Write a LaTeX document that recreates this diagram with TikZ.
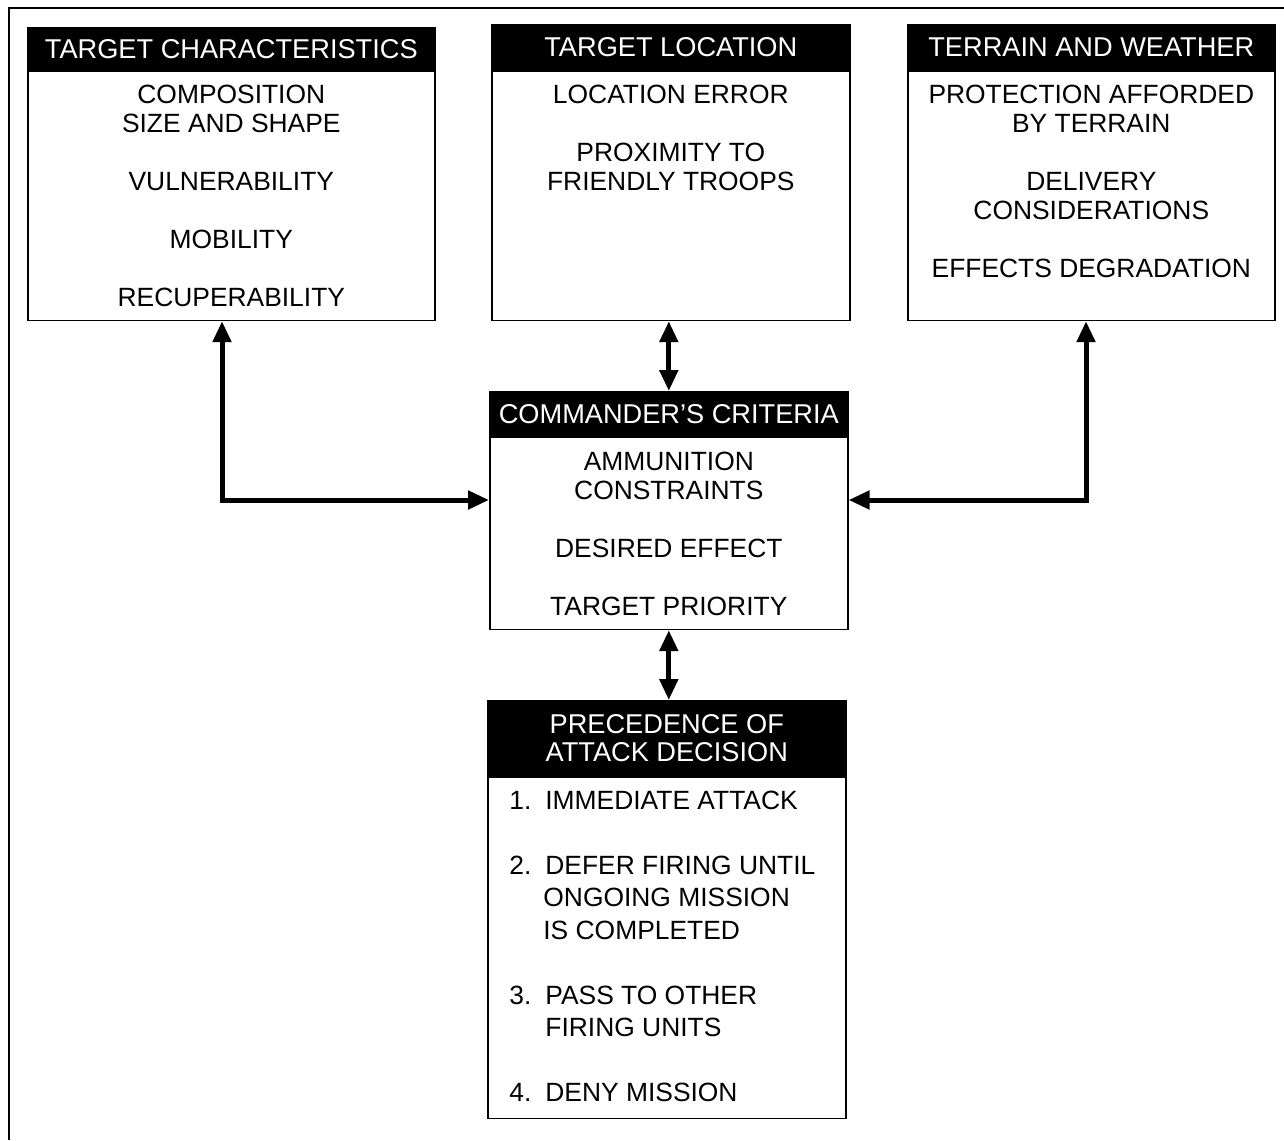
\documentclass[tikz,border=0pt]{standalone}
\usepackage{fontspec}
\setmainfont{Liberation Sans}
\usetikzlibrary{arrows.meta,positioning}
\definecolor{HeadClr}{rgb}{0,0,0}
\definecolor{LineClr}{rgb}{0,0,0}

\tikzset{
  HeadBox/.style={draw=LineClr,fill=HeadClr,text=white,line width=.8pt,inner sep=0pt,
    anchor=north west,align=center,font=\fontsize{13.6}{14}\selectfont},
  BodyBox/.style={draw=LineClr,line width=.8pt,inner sep=0pt,anchor=north west},
  BodyTxt/.style={inner sep=0pt,align=center,font=\fontsize{13.2}{14.5}\selectfont},
  LinkArr/.style={draw=LineClr,line width=2.5pt,
    {Triangle[length=10.5pt,width=9pt]}-{Triangle[length=10.5pt,width=9pt]}}
}

\begin{document}
\begin{tikzpicture}[x=.5pt,y=-.5pt]
\useasboundingbox (0,0) rectangle (1284,1140);

\draw[LineClr,line width=.8pt] (1284,8) -- (9,8) -- (9,1140);

% top row
\node[HeadBox,minimum width=203.5pt,minimum height=21pt] (tcH) at (27,27) {TARGET CHARACTERISTICS};
\node[BodyBox,minimum width=203.5pt,minimum height=124.5pt] (tcB) at (tcH.south west) {};
\node[BodyTxt,below=7pt of tcB.north] (tcT) {COMPOSITION\\SIZE AND SHAPE\\[14.5pt]VULNERABILITY\\[14.5pt]MOBILITY\\[14.5pt]RECUPERABILITY};

\node[HeadBox,minimum width=179pt,minimum height=22.5pt] (tlH) at (491,24) {TARGET LOCATION};
\node[BodyBox,minimum width=179pt,minimum height=124.5pt] (tlB) at (tlH.south west) {};
\node[BodyTxt,below=7pt of tlB.north] (tlT) {LOCATION ERROR\\[14.5pt]PROXIMITY TO\\FRIENDLY TROOPS};

\node[HeadBox,minimum width=183.5pt,minimum height=22.5pt] (twH) at (907,24) {TERRAIN AND WEATHER};
\node[BodyBox,minimum width=183.5pt,minimum height=124.5pt] (twB) at (twH.south west) {};
\node[BodyTxt,below=7pt of twB.north] (twT) {PROTECTION AFFORDED\\BY TERRAIN\\[14.5pt]DELIVERY\\CONSIDERATIONS\\[14.5pt]EFFECTS DEGRADATION};

% middle
\node[HeadBox,minimum width=179pt,minimum height=22pt] (ccH) at (489,391) {COMMANDER’S CRITERIA};
\node[BodyBox,minimum width=179pt,minimum height=96pt] (ccB) at (ccH.south west) {};
\node[BodyTxt,below=7.5pt of ccB.north] (ccT) {AMMUNITION\\CONSTRAINTS\\[14.5pt]DESIRED EFFECT\\[14.5pt]TARGET PRIORITY};

% bottom
\node[HeadBox,minimum width=179pt,minimum height=37.5pt] (pdH) at (487,700) {PRECEDENCE OF\\ATTACK DECISION};
\node[BodyBox,minimum width=179pt,minimum height=170.5pt] (pdB) at (pdH.south west) {};
\node[BodyTxt,align=left,font=\fontsize{13.2}{16.25}\selectfont,below right=7pt and 11pt of pdB.north west] (pdT)
  {\makebox[18pt][l]{1.}IMMEDIATE ATTACK\\[16.25pt]
   \makebox[18pt][l]{2.}DEFER FIRING UNTIL\\
   \hspace*{17pt}ONGOING MISSION\\
   \hspace*{17pt}IS COMPLETED\\[16.25pt]
   \makebox[18pt][l]{3.}PASS TO OTHER\\
   \hspace*{18pt}FIRING UNITS\\[16.25pt]
   \makebox[18pt][l]{4.}DENY MISSION};

% links
\coordinate (lk) at (222,500);
\coordinate (rk) at (1086,500);
\draw[LinkArr] (tcB.south -| lk) |- (ccB.west |- lk);
\draw[LinkArr] (twB.south -| rk) |- (ccB.east |- rk);
\draw[LinkArr] (ccH.north |- tlB.south) -- (ccH.north);
\draw[LinkArr] (ccB.south) -- (pdH.north -| ccB.south);

\end{tikzpicture}
\end{document}
